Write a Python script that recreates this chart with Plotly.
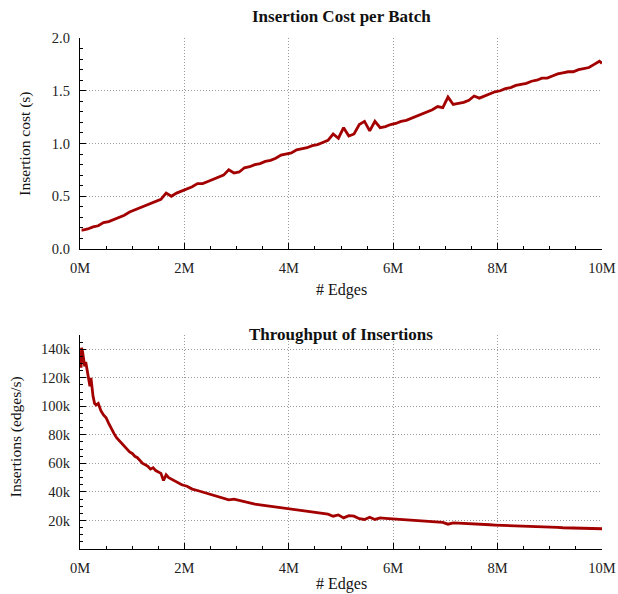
import plotly.graph_objects as go

# ---- data (x in millions of edges) ----
cost_x = [0.03] + [round(0.05 + 0.1 * i, 2) for i in range(100)] + [10.0]
cost_s = [0.18,
          0.18, 0.19, 0.21, 0.22, 0.25, 0.26, 0.28, 0.30, 0.32, 0.35,
          0.37, 0.39, 0.41, 0.43, 0.45, 0.47, 0.53, 0.50, 0.53, 0.55,
          0.57, 0.59, 0.62, 0.62, 0.64, 0.66, 0.68, 0.70, 0.75, 0.72,
          0.73, 0.77, 0.78, 0.80, 0.81, 0.83, 0.84, 0.86, 0.89, 0.90,
          0.91, 0.94, 0.95, 0.96, 0.98, 0.99, 1.01, 1.03, 1.09, 1.05,
          1.15, 1.07, 1.09, 1.18, 1.21, 1.12, 1.21, 1.15, 1.16, 1.18,
          1.19, 1.21, 1.22, 1.24, 1.26, 1.28, 1.30, 1.32, 1.35, 1.34,
          1.44, 1.37, 1.38, 1.39, 1.41, 1.45, 1.43, 1.45, 1.47, 1.49,
          1.50, 1.52, 1.53, 1.55, 1.56, 1.57, 1.59, 1.60, 1.62, 1.62,
          1.64, 1.66, 1.67, 1.68, 1.68, 1.70, 1.71, 1.72, 1.75, 1.78,
          1.76]

thr_x = [0.02, 0.03, 0.05, 0.07, 0.09, 0.11, 0.13, 0.15, 0.17, 0.19,
         0.21, 0.23, 0.25, 0.28, 0.31, 0.35, 0.40, 0.45, 0.50, 0.55,
         0.60, 0.65, 0.70, 0.75, 0.80, 0.85, 0.90, 0.95, 1.00, 1.05,
         1.10, 1.15, 1.20, 1.25, 1.30, 1.35, 1.40, 1.45, 1.50, 1.55,
         1.60, 1.65, 1.70, 1.75, 1.80, 1.85, 1.90, 1.95, 2.05, 2.15,
         2.25, 2.35, 2.45, 2.55, 2.65, 2.75, 2.85, 2.95, 3.05, 3.15,
         3.25, 3.35, 3.45, 3.55, 3.65, 3.75, 3.85, 3.95, 4.05, 4.15,
         4.25, 4.35, 4.45, 4.55, 4.65, 4.75, 4.85, 4.95, 5.05, 5.15,
         5.25, 5.35, 5.45, 5.55, 5.65, 5.75, 5.85, 5.95, 6.05, 6.15,
         6.25, 6.35, 6.45, 6.55, 6.65, 6.75, 6.85, 6.95, 7.05, 7.15,
         7.25, 7.35, 7.45, 7.55, 7.65, 7.75, 7.85, 7.95, 8.05, 8.15,
         8.25, 8.35, 8.45, 8.55, 8.65, 8.75, 8.85, 8.95, 9.05, 9.15,
         9.25, 9.35, 9.45, 9.55, 9.65, 9.75, 9.85, 9.95, 10.0]
thr_k = [127, 141, 138, 133, 128, 131, 126, 124, 119, 114,
         120, 112, 107, 102, 101, 102, 97, 94, 92, 88,
         84, 81, 78, 76, 74, 72, 70, 68, 67, 65,
         64, 62, 60, 59, 58, 56, 57, 55, 54, 53,
         48, 52, 50, 49, 48, 47, 46, 45, 44, 42,
         41, 40, 39, 38, 37, 36, 34.5, 35, 34, 33,
         32, 31.5, 31, 30.5, 30, 29.3, 28.5, 28, 27.5, 27,
         26.5, 26.2, 25.7, 25.3, 24.9, 24.4, 23.0, 23.9, 21.8, 23.4,
         23.0, 21.2, 20.7, 22.3, 20.7, 21.8, 21.5, 21.2, 21.0, 20.7,
         20.5, 20.2, 19.9, 19.6, 19.3, 19.0, 18.6, 18.7, 17.4, 18.3,
         18.1, 18.0, 17.7, 17.3, 17.5, 17.3, 17.0, 16.8, 16.7, 16.5,
         16.3, 16.2, 16.0, 15.9, 15.7, 15.6, 15.4, 15.4, 15.2, 15.1,
         14.9, 14.8, 14.8, 14.7, 14.6, 14.5, 14.3, 14.0, 14.2]

x_ticks = [0, 2, 4, 6, 8, 10]
x_labels = ["0M", "2M", "4M", "6M", "8M", "10M"]
cost_ticks = [0.0, 0.5, 1.0, 1.5, 2.0]
cost_labels = ["0.0", "0.5", "1.0", "1.5", "2.0"]
thr_ticks = [20, 40, 60, 80, 100, 120, 140]
thr_labels = ["20k", "40k", "60k", "80k", "100k", "120k", "140k"]

FONT = "Liberation Serif, DejaVu Serif, serif"
RED = "#a30000"

fig = go.Figure()
fig.add_trace(go.Scatter(x=cost_x, y=cost_s, mode="lines",
                         line=dict(color=RED, width=2.8), xaxis="x", yaxis="y",
                         showlegend=False))
fig.add_trace(go.Scatter(x=thr_x, y=thr_k, mode="lines",
                         line=dict(color=RED, width=2.8), xaxis="x2", yaxis="y2",
                         showlegend=False))

axis_common = dict(showline=True, linecolor="black", linewidth=1.3,
                   ticks="inside", ticklen=6, tickcolor="black", tickwidth=1.2,
                   showgrid=True, gridcolor="#9a9a9a", griddash="1px,2px", gridwidth=1,
                   zeroline=False, tickfont=dict(family=FONT, size=14.5, color="#222"),
                   mirror=False, automargin=False)

top_bottom = 0.5871
bot_top = 0.4188

fig.update_layout(
    width=618, height=594,
    margin=dict(l=80, r=16, t=38, b=45, autoexpand=False),
    paper_bgcolor="white", plot_bgcolor="white",
    font=dict(family=FONT, color="#222"),
    xaxis=dict(axis_common, domain=[0, 1], range=[0, 10], tickvals=x_ticks,
               ticktext=x_labels, anchor="y", ticklabelstandoff=5,
               minor=dict(ticks="inside", ticklen=3, tickcolor="black", dtick=0.5, showgrid=False)),
    yaxis=dict(axis_common, domain=[top_bottom, 1], range=[0, 2], tickvals=cost_ticks,
               ticktext=cost_labels, anchor="x", ticklabelstandoff=6,
               minor=dict(ticks="inside", ticklen=3, tickcolor="black", dtick=0.1, showgrid=False)),
    xaxis2=dict(axis_common, domain=[0, 1], range=[0, 10], tickvals=x_ticks,
                ticktext=x_labels, anchor="y2", ticklabelstandoff=5,
                minor=dict(ticks="inside", ticklen=3, tickcolor="black", dtick=0.5, showgrid=False)),
    yaxis2=dict(axis_common, domain=[0, bot_top], range=[0, 150], tickvals=thr_ticks,
                ticktext=thr_labels, anchor="x2", ticklabelstandoff=6,
                minor=dict(ticks="inside", ticklen=3, tickcolor="black", dtick=5, showgrid=False)),
)

ann = [
    dict(text="<b>Insertion Cost per Batch</b>", x=0.5, y=1.043, size=17),
    dict(text="<b>Throughput of Insertions</b>", x=0.5, y=0.4188, size=17),
    dict(text="# Edges", x=0.5, y=0.507, size=16),
    dict(text="# Edges", x=0.5, y=-0.069, size=16),
]
for a in ann:
    fig.add_annotation(text=a["text"], x=a["x"], y=a["y"], xref="paper", yref="paper",
                       showarrow=False, xanchor="center", yanchor="middle",
                       font=dict(family=FONT, size=a["size"], color="#111"))
fig.add_annotation(text="Insertion cost (s)", x=-0.105, y=(1 + top_bottom) / 2,
                   xref="paper", yref="paper", showarrow=False, textangle=-90,
                   xanchor="center", yanchor="middle",
                   font=dict(family=FONT, size=15.5, color="#111"))
fig.add_annotation(text="Insertions (edges/s)", x=-0.122, y=bot_top / 2 + 0.01,
                   xref="paper", yref="paper", showarrow=False, textangle=-90,
                   xanchor="center", yanchor="middle",
                   font=dict(family=FONT, size=15.5, color="#111"))

fig.write_html("out.html", config={"displayModeBar": False})

# remove the default page margin so the figure sits at the window's top-left corner
with open("out.html", "r", encoding="utf-8") as f:
    html = f.read()
html = html.replace("<head>", "<head><style>html,body{margin:0;padding:0;overflow:hidden;}</style>", 1)
with open("out.html", "w", encoding="utf-8") as f:
    f.write(html)
